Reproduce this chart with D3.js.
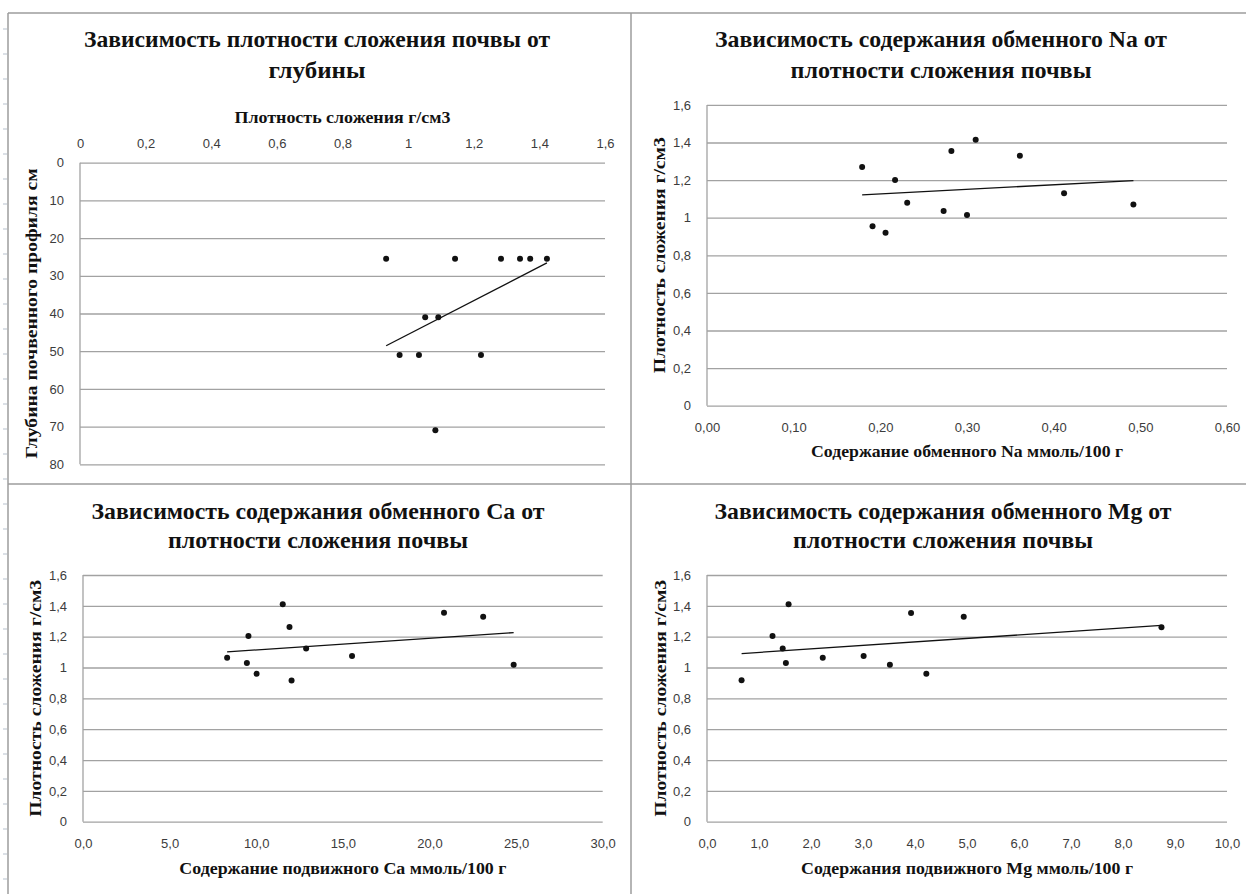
<!DOCTYPE html>
<html>
<head>
<meta charset="utf-8">
<script src="https://cdn.jsdelivr.net/npm/d3@7"></script>
<style>
  body { margin: 0; background: #fff; }
  svg { display: block; }
</style>
</head>
<body>
<svg id="chart" width="1246" height="894"></svg>
<script>
// ---- Density vs. depth (12 samples) ----
const depthDensity = [0.933, 1.143, 1.283, 1.341, 1.372, 1.423, 1.052, 1.092, 0.974, 1.033, 1.222, 1.083];
const depthCm      = [25.5, 25.5, 25.5, 25.5, 25.5, 25.5, 41, 41, 51, 51, 51, 71];

// ---- Exchangeable Na vs. density ----
const naContent = [0.179, 0.217, 0.231, 0.273, 0.300, 0.191, 0.206, 0.412, 0.492, 0.361, 0.282, 0.310];
const naDensity = [1.270, 1.200, 1.080, 1.035, 1.015, 0.955, 0.920, 1.130, 1.070, 1.330, 1.355, 1.415];

// ---- Mobile Ca vs. density ----
const caContent = [8.32, 9.46, 9.55, 10.02, 11.53, 11.92, 12.04, 12.88, 15.53, 20.84, 23.10, 24.86];
const caDensity = [1.063, 1.029, 1.204, 0.960, 1.410, 1.263, 0.915, 1.124, 1.075, 1.355, 1.330, 1.018];

// ---- Mobile Mg vs. density ----
const mgContent = [0.665, 1.26, 1.456, 1.517, 1.569, 2.226, 3.012, 3.517, 3.924, 4.218, 4.937, 8.74];
const mgDensity = [0.917, 1.204, 1.124, 1.029, 1.410, 1.063, 1.075, 1.018, 1.353, 0.960, 1.330, 1.261];

// ---- Tick values ----
const densityTicksTop = [0, 0.2, 0.4, 0.6, 0.8, 1, 1.2, 1.4, 1.6];
const depthTicks      = [0, 10, 20, 30, 40, 50, 60, 70, 80];
const densityTicks    = [0, 0.2, 0.4, 0.6, 0.8, 1, 1.2, 1.4, 1.6];
const naTicks         = [0, 0.1, 0.2, 0.3, 0.4, 0.5, 0.6];
const caTicks         = [0, 5, 10, 15, 20, 25, 30];
const mgTicks         = [0, 1, 2, 3, 4, 5, 6, 7, 8, 9, 10];

const svg = d3.select('#chart');
svg.append('rect').attr('width', 1246).attr('height', 894).attr('fill', '#fff');

const lineGrey = '#a2a2a2';
const tickColor = '#3c3c3c';
const tickFont = '"Liberation Sans Narrow", "Liberation Sans", Arial, sans-serif';
const titleFont = '"Liberation Serif", "Times New Roman", serif';

// decimal comma formatter
const commaFmt = spec => { const f = d3.format(spec); return v => f(v).replace('.', ','); };
const densityFmt = v => (v === 0 || v === 1) ? String(v) : commaFmt('.1f')(v);

// least-squares fit used for the trend lines
function fit(xs, ys) {
  const mx = d3.mean(xs), my = d3.mean(ys);
  let sxy = 0, sxx = 0;
  xs.forEach((x, i) => { sxy += (x - mx) * (ys[i] - my); sxx += (x - mx) * (x - mx); });
  const b = sxy / sxx;
  return x => my + b * (x - mx);
}

// ruler marks along the left edge of the sheet
svg.append('g').selectAll('line').data(d3.range(29, 894, 25)).join('line')
  .attr('x1', 3).attr('x2', 7).attr('y1', d => d).attr('y2', d => d)
  .attr('stroke', '#c3cbd6').attr('stroke-width', 1.2);

// sheet frame and cell dividers
const frame = svg.append('g').attr('stroke', '#9c9c9c').attr('stroke-width', 1.5).attr('fill', 'none');
frame.append('line').attr('x1', 8).attr('x2', 1246).attr('y1', 13).attr('y2', 13);
frame.append('line').attr('x1', 8).attr('x2', 8).attr('y1', 13).attr('y2', 894);
frame.append('line').attr('x1', 631).attr('x2', 631).attr('y1', 13).attr('y2', 894);
frame.append('line').attr('x1', 8).attr('x2', 1246).attr('y1', 484).attr('y2', 484);

function boldText(g, text, x, y, size, len, rotate) {
  const t = g.append('text')
    .attr('font-family', titleFont).attr('font-weight', 'bold')
    .attr('font-size', size).attr('fill', '#111')
    .attr('text-anchor', 'middle')
    .attr('textLength', len).attr('lengthAdjust', 'spacingAndGlyphs')
    .text(text);
  if (rotate) t.attr('transform', `translate(${x},${y}) rotate(-90)`);
  else t.attr('x', x).attr('y', y);
  return t;
}

function panel(cfg) {
  const g = svg.append('g');
  const x = d3.scaleLinear().domain(cfg.xDomain).range([cfg.left, cfg.right]);
  const y = d3.scaleLinear().domain(cfg.yDomain).range(cfg.yRange);

  // title
  cfg.title.forEach(t => boldText(g, t.text, cfg.titleX, t.y, 24, t.len));

  // horizontal gridlines
  const grid = g.append('g')
    .attr('transform', `translate(${cfg.left},0)`)
    .call(d3.axisLeft(y).tickValues(cfg.yTicks).tickSize(-(cfg.right - cfg.left)).tickFormat(''));
  grid.select('.domain').remove();
  grid.selectAll('.tick line').attr('stroke', lineGrey).attr('stroke-width', 1.3);

  // vertical axis line
  g.append('line')
    .attr('x1', cfg.left).attr('x2', cfg.left)
    .attr('y1', d3.min(cfg.yRange)).attr('y2', d3.max(cfg.yRange))
    .attr('stroke', lineGrey).attr('stroke-width', 1.3);

  // y tick labels
  const yAx = g.append('g')
    .attr('transform', `translate(${cfg.left - 13},0)`)
    .call(d3.axisLeft(y).tickValues(cfg.yTicks).tickSize(0).tickFormat(cfg.yFmt));
  yAx.select('.domain').remove();
  yAx.selectAll('text').attr('font-family', tickFont).attr('font-size', 13).attr('fill', tickColor);

  // x tick labels
  const xAxisFn = cfg.xTop ? d3.axisTop(x) : d3.axisBottom(x);
  const xAx = g.append('g')
    .attr('transform', `translate(0,${cfg.xLabelY})`)
    .call(xAxisFn.tickValues(cfg.xTicks).tickSize(0).tickFormat(cfg.xFmt));
  xAx.select('.domain').remove();
  xAx.selectAll('text').attr('font-family', tickFont).attr('font-size', 13).attr('fill', tickColor)
    .attr('dy', '0.35em').attr('y', 0);

  // axis titles
  boldText(g, cfg.xTitle.text, (cfg.left + cfg.right) / 2, cfg.xTitle.y, 16, cfg.xTitle.len);
  boldText(g, cfg.yTitle.text, cfg.yTitle.x, (cfg.yRange[0] + cfg.yRange[1]) / 2, 16, cfg.yTitle.len, true);

  // trend line over the data range
  const f = fit(cfg.xs, cfg.ys);
  const ext = d3.extent(cfg.xs);
  g.append('path')
    .datum(ext)
    .attr('d', d3.line().x(d => x(d)).y(d => y(f(d))))
    .attr('stroke', '#111').attr('stroke-width', 1.3).attr('fill', 'none');

  // points
  g.append('g').selectAll('circle').data(cfg.xs.map((v, i) => [v, cfg.ys[i]])).join('circle')
    .attr('cx', d => x(d[0])).attr('cy', d => y(d[1])).attr('r', 3).attr('fill', '#111');
}

// Density vs. depth: horizontal axis on top, depth increasing downwards
panel({
  left: 80, right: 605, yRange: [162.7, 464.3],
  xDomain: [0, 1.6], yDomain: [0, 80],
  xTicks: densityTicksTop, yTicks: depthTicks,
  xFmt: densityFmt, yFmt: d3.format('d'),
  xTop: true, xLabelY: 143,
  titleX: 317,
  title: [{ text: 'Зависимость плотности сложения почвы от', y: 47, len: 466 },
          { text: 'глубины', y: 78, len: 97 }],
  xTitle: { text: 'Плотность сложения г/см3', y: 123, len: 216 },
  yTitle: { text: 'Глубина почвенного профиля см', x: 37, len: 290 },
  xs: depthDensity, ys: depthCm
});

// Exchangeable Na
panel({
  left: 707, right: 1227, yRange: [405.7, 104.9],
  xDomain: [0, 0.6], yDomain: [0, 1.6],
  xTicks: naTicks, yTicks: densityTicks,
  xFmt: commaFmt('.2f'), yFmt: densityFmt,
  xTop: false, xLabelY: 427,
  titleX: 941,
  title: [{ text: 'Зависимость содержания обменного Na от', y: 47, len: 452 },
          { text: 'плотности сложения почвы', y: 78, len: 301 }],
  xTitle: { text: 'Содержание обменного Na ммоль/100 г', y: 457, len: 312 },
  yTitle: { text: 'Плотность сложения г/см3', x: 665, len: 236 },
  xs: naContent, ys: naDensity
});

// Mobile Ca
panel({
  left: 83, right: 602.7, yRange: [821.7, 575],
  xDomain: [0, 30], yDomain: [0, 1.6],
  xTicks: caTicks, yTicks: densityTicks,
  xFmt: commaFmt('.1f'), yFmt: densityFmt,
  xTop: false, xLabelY: 843,
  titleX: 318,
  title: [{ text: 'Зависимость содержания обменного Са от', y: 519, len: 453 },
          { text: 'плотности сложения почвы', y: 548, len: 300 }],
  xTitle: { text: 'Содержание подвижного Ca ммоль/100 г', y: 874, len: 327 },
  yTitle: { text: 'Плотность сложения г/см3', x: 41, len: 237 },
  xs: caContent, ys: caDensity
});

// Mobile Mg
panel({
  left: 707, right: 1227, yRange: [821.7, 575],
  xDomain: [0, 10], yDomain: [0, 1.6],
  xTicks: mgTicks, yTicks: densityTicks,
  xFmt: commaFmt('.1f'), yFmt: densityFmt,
  xTop: false, xLabelY: 843,
  titleX: 943,
  title: [{ text: 'Зависимость содержания обменного Mg от', y: 519, len: 457 },
          { text: 'плотности сложения почвы', y: 548, len: 300 }],
  xTitle: { text: 'Содержания подвижного Mg ммоль/100 г', y: 874, len: 332 },
  yTitle: { text: 'Плотность сложения г/см3', x: 666, len: 237 },
  xs: mgContent, ys: mgDensity
});
</script>
</body>
</html>
